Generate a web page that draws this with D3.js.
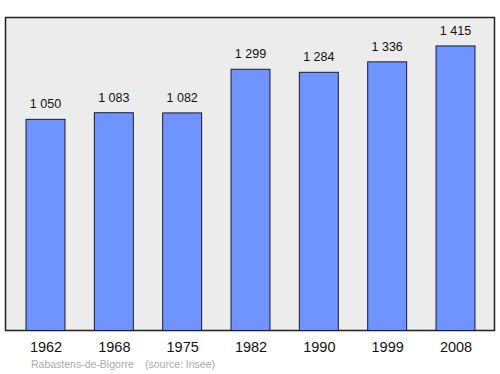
<!DOCTYPE html>
<html>
<head>
<meta charset="utf-8">
<script src="https://cdn.jsdelivr.net/npm/d3@7"></script>
<style>
  body { margin: 0; background: #fff; }
  text { font-family: "Liberation Sans", Arial, sans-serif; }
</style>
</head>
<body>
<div id="chart-area"></div>
<script>
// data
var years = ["1962", "1968", "1975", "1982", "1990", "1999", "2008"];
var population = [1050, 1083, 1082, 1299, 1284, 1336, 1415];
var placeName = "Rabastens-de-Bigorre";
var sourceText = "(source: Insee)";

var width = 500, height = 374;
var frame = { left: 5.5, top: 17.5, right: 494.5, bottom: 330.5 };

var svg = d3.select("#chart-area").append("svg")
    .attr("width", width)
    .attr("height", height);

// frame
svg.append("rect")
    .attr("x", frame.left)
    .attr("y", frame.top)
    .attr("width", frame.right - frame.left)
    .attr("height", frame.bottom - frame.top)
    .attr("fill", "#ececec")
    .attr("stroke", "#222")
    .attr("stroke-width", 1.5);

// scales
var x = d3.scalePoint().domain(years).range([45.5, 455.5]);
var barW = x.step() * 0.57;
var y = d3.scaleLinear()
    .domain([0, d3.max(population) * 1.1])
    .range([frame.bottom, frame.top]);

// bars
svg.selectAll(".bar")
    .data(population)
    .enter().append("rect")
    .attr("class", "bar")
    .attr("x", function(d, i){ return x(years[i]) - barW / 2; })
    .attr("y", function(d){ return y(d); })
    .attr("width", barW)
    .attr("height", function(d){ return frame.bottom - y(d); })
    .attr("fill", "#7094ff")
    .attr("stroke", "#1a1a2e")
    .attr("stroke-width", 1);

// value labels (space as thousands separator)
var fmt = function(v){ return d3.format(",")(v).replace(",", " "); };
svg.selectAll(".val")
    .data(population)
    .enter().append("text")
    .attr("class", "val")
    .attr("x", function(d, i){ return x(years[i]); })
    .attr("y", function(d){ return y(d) - 11; })
    .attr("text-anchor", "middle")
    .attr("font-size", "12.5px")
    .attr("fill", "#111")
    .text(fmt);

// x axis labels
var xAxis = svg.append("g")
    .attr("transform", "translate(0," + frame.bottom + ")")
    .call(d3.axisBottom(x).tickSize(0).tickPadding(11));
xAxis.select(".domain").remove();
xAxis.selectAll("text")
    .attr("font-size", "14.5px")
    .attr("font-family", "Liberation Sans, Arial, sans-serif")
    .attr("fill", "#111");

// caption
svg.append("text")
    .attr("x", 31)
    .attr("y", 368)
    .attr("font-size", "10.5px")
    .attr("fill", "#aaa")
    .text(placeName);
svg.append("text")
    .attr("x", 145)
    .attr("y", 368)
    .attr("font-size", "10.5px")
    .attr("fill", "#aaa")
    .text(sourceText);
</script>
</body>
</html>
